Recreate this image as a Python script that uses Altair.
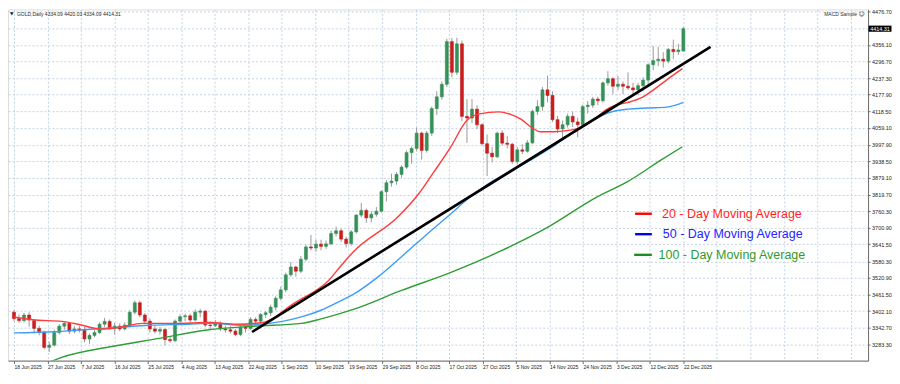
import json
import pandas as pd
import altair as alt

# ---------------- data (GOLD, Daily, 18 Jun - 22 Dec 2025) ----------------
opens = [3398, 3375, 3368, 3388, 3368, 3340, 3326, 3272, 3280, 3325,
         3348, 3358, 3330, 3338, 3334, 3302, 3315, 3325, 3355, 3365,
         3340, 3348, 3338, 3352, 3398, 3432, 3388, 3366, 3338, 3330,
         3336, 3300, 3296, 3366, 3382, 3385, 3370, 3398, 3402, 3352,
         3350, 3358, 3338, 3335, 3330, 3318, 3345, 3340, 3372, 3366,
         3390, 3396, 3416, 3448, 3478, 3532, 3560, 3545, 3588, 3632,
         3628, 3642, 3634, 3643, 3680, 3690, 3660, 3644, 3686, 3746,
         3763, 3736, 3749, 3760, 3830, 3862, 3868, 3892, 3918, 3970,
         3985, 4040, 3978, 4040, 4128, 4170, 4215, 4368, 4258, 4360,
         4100, 4094, 4126, 4070, 4002, 3968, 3955, 4040, 4004, 4000,
         3938, 3980, 3975, 4005, 4118, 4135, 4195, 4175, 4088, 4055,
         4070, 4100, 4080, 4070, 4135, 4140, 4162, 4156, 4220, 4235,
         4208, 4215, 4208, 4202, 4195, 4210, 4230, 4285, 4300, 4305,
         4298, 4340, 4332, 4334.09]
highs = [3405, 3390, 3395, 3398, 3372, 3350, 3332, 3292, 3335, 3355,
         3365, 3362, 3348, 3348, 3345, 3322, 3335, 3362, 3378, 3372,
         3360, 3358, 3362, 3405, 3440, 3438, 3395, 3375, 3350, 3345,
         3340, 3312, 3372, 3390, 3392, 3392, 3408, 3410, 3405, 3365,
         3370, 3365, 3350, 3348, 3338, 3350, 3355, 3380, 3380, 3395,
         3402, 3425, 3455, 3490, 3540, 3578, 3565, 3600, 3640, 3675,
         3658, 3658, 3655, 3690, 3705, 3698, 3668, 3692, 3750, 3790,
         3770, 3760, 3775, 3835, 3872, 3895, 3900, 3925, 3978, 3992,
         4060, 4045, 4048, 4135, 4190, 4225, 4378, 4381, 4382, 4372,
         4162, 4162, 4140, 4075, 4035, 3990, 4045, 4050, 4030, 4005,
         3990, 4000, 4015, 4125, 4158, 4205, 4246, 4190, 4102, 4085,
         4110, 4118, 4095, 4142, 4155, 4170, 4170, 4225, 4262, 4240,
         4245, 4225, 4258, 4220, 4220, 4240, 4290, 4352, 4350, 4330,
         4345, 4375, 4360, 4420.03]
lows = [3365, 3360, 3362, 3347, 3322, 3315, 3265, 3255, 3275, 3318,
        3335, 3320, 3322, 3325, 3290, 3285, 3308, 3320, 3345, 3335,
        3318, 3330, 3332, 3345, 3390, 3380, 3355, 3325, 3322, 3318,
        3280, 3288, 3290, 3360, 3365, 3360, 3365, 3380, 3345, 3335,
        3345, 3330, 3325, 3322, 3312, 3312, 3325, 3335, 3350, 3355,
        3378, 3385, 3405, 3440, 3470, 3525, 3525, 3538, 3580, 3620,
        3615, 3620, 3625, 3638, 3670, 3650, 3630, 3636, 3680, 3738,
        3718, 3720, 3740, 3755, 3795, 3848, 3855, 3880, 3912, 3930,
        3975, 3945, 3970, 4030, 4105, 4160, 4205, 4240, 4248, 4082,
        4005, 4075, 4055, 3995, 3886, 3935, 3950, 3995, 3985, 3930,
        3928, 3965, 3970, 4000, 4105, 4120, 4150, 4080, 4040, 4012,
        4060, 4062, 4025, 4065, 4110, 4130, 4140, 4150, 4210, 4180,
        4195, 4180, 4195, 4178, 4175, 4190, 4205, 4265, 4280, 4275,
        4290, 4305, 4320, 4334.09]
closes = [3375, 3368, 3388, 3370, 3340, 3326, 3272, 3280, 3325, 3348,
          3358, 3330, 3338, 3334, 3302, 3315, 3325, 3355, 3365, 3340,
          3348, 3338, 3352, 3398, 3432, 3388, 3366, 3338, 3330, 3336,
          3300, 3296, 3366, 3382, 3385, 3370, 3398, 3402, 3352, 3350,
          3358, 3338, 3335, 3330, 3318, 3345, 3340, 3372, 3366, 3390,
          3396, 3416, 3448, 3478, 3532, 3560, 3545, 3588, 3632, 3628,
          3642, 3634, 3643, 3680, 3690, 3660, 3644, 3686, 3746, 3763,
          3736, 3749, 3760, 3830, 3862, 3868, 3892, 3918, 3970, 3985,
          4040, 3978, 4040, 4128, 4170, 4215, 4368, 4258, 4360, 4100,
          4094, 4126, 4070, 4002, 3968, 3955, 4040, 4004, 4000, 3938,
          3980, 3975, 4005, 4118, 4135, 4195, 4175, 4088, 4055, 4070,
          4100, 4080, 4070, 4135, 4140, 4162, 4156, 4220, 4235, 4208,
          4215, 4208, 4202, 4195, 4210, 4230, 4285, 4300, 4305, 4298,
          4340, 4332, 4338, 4414.31]

x_labels = ["18 Jun 2025", "27 Jun 2025", "7 Jul 2025", "16 Jul 2025", "25 Jul 2025",
            "4 Aug 2025", "13 Aug 2025", "22 Aug 2025", "1 Sep 2025", "10 Sep 2025",
            "19 Sep 2025", "29 Sep 2025", "8 Oct 2025", "17 Oct 2025", "27 Oct 2025",
            "5 Nov 2025", "14 Nov 2025", "24 Nov 2025", "3 Dec 2025", "12 Dec 2025",
            "22 Dec 2025"]
y_labels = [4476.70, 4415.50, 4356.10, 4296.70, 4237.30, 4177.90, 4118.50, 4059.10,
            3997.90, 3938.50, 3879.10, 3819.70, 3760.30, 3700.90, 3641.50, 3580.30,
            3520.90, 3461.50, 3402.10, 3342.70, 3283.30, 3223.90]
hidden_y_label = 4415.50  # covered by the current-price box in the reference

ma20_bar = [0, 3.7, 9.5, 12.7, 17.2, 21, 25.5, 32, 39, 44.2, 49.4, 52, 54.4, 57.1, 59.7,
            62.2, 64.9, 67.4, 76.4, 80.3, 83.4, 86.7, 90, 92.5, 96.3, 98.8, 100.8, 102.7,
            104.6, 107.3, 109.8, 112.4, 115.1, 117.6, 119.5, 122, 124.7, 127.2, 129.7, 132.8]
ma20_val = [3381, 3371, 3365, 3355, 3338, 3344, 3358, 3358, 3361, 3355, 3361, 3381, 3415, 3446, 3472,
            3506, 3563, 3614, 3742, 3820, 3900, 3988, 4086, 4109, 4116, 4106, 4089, 4062,
            4045, 4045, 4049, 4059, 4086, 4123, 4140, 4150, 4167, 4197, 4231, 4271]
ma50_bar = [0, 8.1, 15.8, 21, 26.8, 34.6, 39, 45.6, 49.4, 53.3, 57.1, 61, 64.9, 67.4, 72.2,
            77, 81.9, 86.7, 90.5, 93.8, 98.3, 102.7, 107.3, 111.2, 114.3, 118.1, 122, 125.9,
            129.7, 133]
ma50_val = [3324, 3328, 3338, 3344, 3351, 3355, 3358, 3351, 3355, 3365, 3381, 3405, 3439, 3462, 3523,
            3597, 3675, 3749, 3809, 3853, 3900, 3944, 3995, 4045, 4079, 4113, 4126, 4130,
            4133, 4150]
ma100_bar = [6.5, 9.5, 19.1, 28.8, 38.4, 48, 57.1, 61, 64.9, 67.4, 77, 86.7, 96.3, 106,
             115.6, 122, 128.6, 132.8]
ma100_val = [3215, 3236, 3274, 3304, 3334, 3348, 3358, 3374, 3394, 3408, 3476, 3540, 3614, 3702,
             3809, 3867, 3944, 3991]
trend_bar = [47.3, 138.4]
trend_val = [3327, 4349]

last_price = 4414.31
header_text = "GOLD,Daily  4334.09 4420.03 4334.09 4414.31"
legend_names = ["20 - Day Moving Average", "50 - Day Moving Average", "100 - Day Moving Average"]

# ---------------- styling ----------------
W, H = 862, 352
GREEN_C = "#369158"
RED_C = "#c81e1e"
WICK_C = "#9a9a9a"
GRID_C = "#c4d2e4"
FRAME_C = "#6e6e6e"
TXT_C = "#222222"
SMALL_FONT = "Liberation Sans"

x_step = 133 / 20
x_tick_vals = [round(k * x_step, 3) for k in range(26)]
x_label_expr = ("datum.value <= 134 ? " + json.dumps(x_labels) +
                "[round(datum.value / " + str(x_step) + ")] : ''")
y_label_expr = ("abs(datum.value - " + str(hidden_y_label) + ") < 0.01 ? '' : "
                "format(datum.value, '.2f')")

xs = alt.Scale(domain=[-0.2, 168.7], nice=False, zero=False)
ys = alt.Scale(domain=[3224.5, 4483.4], nice=False, zero=False)

x_axis = alt.Axis(values=x_tick_vals, tickCount=500, labelExpr=x_label_expr, grid=True, gridColor=GRID_C,
                  gridDash=[2, 2], gridWidth=1, domainColor=FRAME_C, tickColor=FRAME_C,
                  tickSize=3, tickOpacity={"condition": {"test": "datum.value > 134", "value": 0}, "value": 1},
                  labelAlign="left", labelFontSize=5, labelFont=SMALL_FONT, labelColor=TXT_C,
                  labelPadding=1, labelFlush=False, labelOverlap=False, title="", orient="bottom")
y_axis = alt.Axis(orient="right", values=y_labels, tickCount=500, labelExpr=y_label_expr, grid=True,
                  gridColor=GRID_C, gridDash=[2, 2], gridWidth=1, domainColor=FRAME_C, tickColor=FRAME_C,
                  tickSize=2, labelFontSize=5.5, labelFont=SMALL_FONT, labelColor=TXT_C,
                  labelPadding=1.5, labelFlush=False, labelOverlap=False, title="")

candles = pd.DataFrame({"i": list(range(len(closes))), "o": opens, "h": highs, "l": lows, "c": closes})

wick = alt.Chart(candles).mark_rule(color=WICK_C, strokeWidth=1).encode(
    x=alt.X("i:Q", scale=xs, axis=x_axis),
    y=alt.Y("l:Q", scale=ys, axis=y_axis),
    y2="h:Q",
)
body = alt.Chart(candles).mark_bar(size=3, strokeWidth=0.6).encode(
    x=alt.X("i:Q", scale=xs),
    y=alt.Y("o:Q", scale=ys),
    y2="c:Q",
    color=alt.condition("datum.c >= datum.o", alt.value(GREEN_C), alt.value(RED_C)),
    stroke=alt.condition("datum.c >= datum.o", alt.value(GREEN_C), alt.value(RED_C)),
)


def ma_layer(bars, vals, colour, width=1.4):
    d = pd.DataFrame({"i": bars, "v": vals})
    return alt.Chart(d).mark_line(color=colour, strokeWidth=width, clip=True,
                                  interpolate="monotone").encode(
        x=alt.X("i:Q", scale=xs), y=alt.Y("v:Q", scale=ys))


ma100 = ma_layer(ma100_bar, ma100_val, "#2f9e35")
ma50 = ma_layer(ma50_bar, ma50_val, "#3f9cf5")
ma20 = ma_layer(ma20_bar, ma20_val, "#ff3b3b")
trend = alt.Chart(pd.DataFrame({"i": trend_bar, "v": trend_val})).mark_line(
    color="#000000", strokeWidth=2.6, clip=True).encode(
    x=alt.X("i:Q", scale=xs), y=alt.Y("v:Q", scale=ys))

one = pd.DataFrame({"k": [0]})


def legend_item(name, line_colour, text_colour, lx1, lx2, ty, tx):
    ln = alt.Chart(one).mark_rule(color=line_colour, strokeWidth=2.4).encode(
        x=alt.value(lx1), x2=alt.value(lx2), y=alt.value(ty))
    tt = alt.Chart(one).mark_text(align="left", baseline="middle", font="Liberation Sans",
                                  fontSize=12.5, color=text_colour).encode(
        x=alt.value(tx), y=alt.value(ty), text=alt.value(name))
    return [ln, tt]


leg = []
leg += legend_item(legend_names[0], "#ff0000", "#ff1f1f", 628.5, 645.3, 204.8, 655.5)
leg += legend_item(legend_names[1], "#0000ff", "#2424ff", 628.5, 645.3, 225.3, 656.3)
leg += legend_item(legend_names[2], "#1c8c24", "#2f9a2f", 627.6, 645.3, 246.0, 652.0)

tri = alt.Chart(one).mark_text(align="left", baseline="middle", font="DejaVu Sans",
                               fontSize=4.5, color="#111111").encode(
    x=alt.value(2), y=alt.value(4.8), text=alt.value("\u25bc"))
head = alt.Chart(one).mark_text(align="left", baseline="middle", font=SMALL_FONT,
                                fontSize=5, color="#2a2a2a").encode(
    x=alt.value(9), y=alt.value(4.8), text=alt.value(header_text))
macd = alt.Chart(one).mark_text(align="right", baseline="middle", font=SMALL_FONT,
                                fontSize=5, color="#2a2a2a").encode(
    x=alt.value(851), y=alt.value(4.8), text=alt.value("MACD Sample"))
smile = alt.Chart(one).mark_text(align="left", baseline="middle", font="DejaVu Sans",
                                 fontSize=6, color="#2a2a2a").encode(
    x=alt.value(852.5), y=alt.value(4.8), text=alt.value("\u263a"))

price_df = pd.DataFrame({"p": [last_price], "hi": [last_price + 11.0], "lo": [last_price - 11.0]})
pbox = alt.Chart(price_df).mark_rect(color="#000000").encode(
    x=alt.value(862.5), x2=alt.value(885.5), y=alt.Y("hi:Q", scale=ys), y2="lo:Q")
ptxt = alt.Chart(price_df).mark_text(align="center", baseline="middle", font=SMALL_FONT,
                                     fontSize=5.5, color="#ffffff").encode(
    x=alt.value(874), y=alt.Y("p:Q", scale=ys), text=alt.value("4414.31"))

chart = alt.layer(
    wick, body, ma100, ma50, ma20, trend, *leg, tri, head, macd, smile, pbox, ptxt
).properties(
    width=W, height=H, padding={"left": 0, "top": 0, "right": 0, "bottom": 0}
).configure_view(
    stroke=FRAME_C, strokeWidth=1
).configure(
    background="#ffffff"
)

chart.save("out.html", embed_options={"renderer": "svg", "actions": False})
